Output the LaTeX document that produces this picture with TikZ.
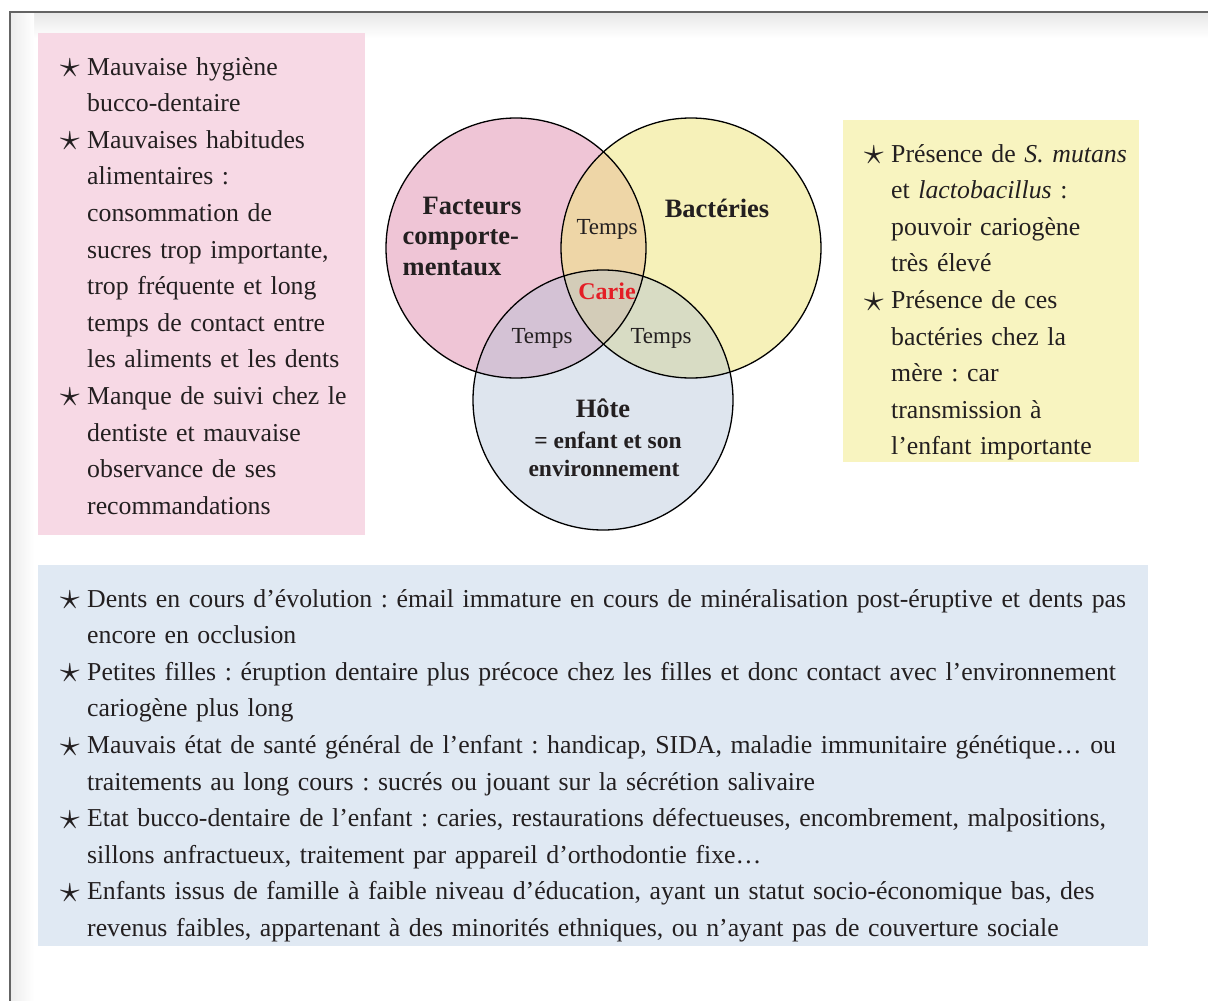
\documentclass[tikz,border=0pt]{standalone}
\usepackage{fontspec}
\setmainfont{Liberation Serif}
\usetikzlibrary{positioning}
\frenchspacing

\definecolor{cadre}{RGB}{100,100,100}
\definecolor{encre}{RGB}{35,31,32}
\definecolor{rouge}{RGB}{228,30,38}
\definecolor{rosefond}{RGB}{247,217,229}
\definecolor{jaunefond}{RGB}{248,244,192}
\definecolor{bleufond}{RGB}{224,233,243}
\definecolor{rosecercle}{RGB}{226,150,180}
\definecolor{jaunecercle}{RGB}{238,229,128}
\definecolor{bleucercle}{RGB}{172,190,212}

\newcommand{\puce}{\par\noindent\hangindent=27pt\hangafter=1%
  \makebox[27pt][l]{\raisebox{-2.5pt}{\scalebox{1.6}{$\star$}}}\ignorespaces}

\tikzset{
  liste/.style={anchor=base west, inner sep=0pt, text width=#1, text=encre,
    font=\fontsize{25.8}{36.6}\selectfont},
  cercle/.style={circle, minimum size=260pt, inner sep=0pt, fill opacity=0.55},
  titre/.style={inner sep=0pt, align=center, text=encre,
    font=\bfseries\fontsize{26.5}{30.5}\selectfont},
  sous/.style={inner sep=0pt, anchor=base, text=encre,
    font=\bfseries\fontsize{23.5}{28}\selectfont},
  temps/.style={inner sep=0pt, anchor=base, text=encre,
    font=\fontsize{23}{23}\selectfont},
}

\begin{document}
\begin{tikzpicture}[x=1pt, y=-1pt]
    \useasboundingbox (0,0) rectangle (1208,1001);

    \shade[top color=black!9, bottom color=white] (11,13) rectangle (1208,38);
    \shade[left color=black!7, right color=white] (11,13) rectangle (34,1001);
    \draw[cadre, line width=2.2pt] (10,1030) -- (10,12) -- (1230,12);

    \fill[rosefond] (38,33) rectangle (365,535);
    \fill[jaunefond] (843,120) rectangle (1139,462);
    \fill[bleufond] (38,565) rectangle (1148,946);

    \node[liste=400pt] (lrose) at (60,38.5) {\puce Mauvaise hygiène\newline
        bucco-dentaire
        \puce Mauvaises habitudes\newline alimentaires :\newline
        consommation de\newline sucres trop importante,\newline
        trop fréquente et long\newline temps de contact entre\newline
        les aliments et les dents
        \puce Manque de suivi chez le\newline dentiste et mauvaise\newline
        observance de ses\newline recommandations\par};

    \node[liste=400pt] (ljaune) at (864,125.5) {\puce Présence de \textit{S. mutans}\newline
        et \textit{lactobacillus} :\newline pouvoir cariogène\newline très élevé
        \puce Présence de ces\newline bactéries chez la\newline mère : car\newline
        transmission à\newline l’enfant importante\par};

    \node[liste=1140pt] (lbleu) at (60,570.5) {\puce Dents en cours d’évolution : émail immature en cours de minéralisation post-éruptive et dents pas\newline
        encore en occlusion
        \puce Petites filles : éruption dentaire plus précoce chez les filles et donc contact avec l’environnement\newline
        cariogène plus long
        \puce Mauvais état de santé général de l’enfant : handicap, SIDA, maladie immunitaire génétique… ou\newline
        traitements au long cours : sucrés ou jouant sur la sécrétion salivaire
        \puce Etat bucco-dentaire de l’enfant : caries, restaurations défectueuses, encombrement, malpositions,\newline
        sillons anfractueux, traitement par appareil d’orthodontie fixe…
        \puce Enfants issus de famille à faible niveau d’éducation, ayant un statut socio-économique bas, des\newline
        revenus faibles, appartenant à des minorités ethniques, ou n’ayant pas de couverture sociale\par};

    \node[cercle, fill=rosecercle] (cfact) at (516,248) {};
    \node[cercle, fill=jaunecercle] (cbact) at (691,248) {};
    \node[cercle, fill=bleucercle, fill opacity=0.4] (chote) at (603,400) {};
    \foreach \c in {cfact, cbact, chote}
        \draw[black, line width=1.3pt] (\c.center) circle[radius=130pt];

    \node[titre, align=left] (tfact) at (462,236) {\hspace*{20pt}Facteurs\\comporte-\\mentaux};
    \node[titre, anchor=base] (tbact) at (717,217) {Bactéries};
    \node[temps] (temps1) at (607,234) {Temps};
    \node[titre, anchor=base, text=rouge, font=\bfseries\fontsize{24}{24}\selectfont] (carie) at (607,299) {Carie};
    \node[temps] (temps2) at (542,343) {Temps};
    \node[temps] (temps3) at (661,343) {Temps};
    \node[titre, anchor=base] (thote) at (603,417) {Hôte};
    \node[sous] (tenv1) at (608,448) {= enfant et son};
    \node[sous] (tenv2) at (604,476) {environnement};
\end{tikzpicture}
\end{document}
